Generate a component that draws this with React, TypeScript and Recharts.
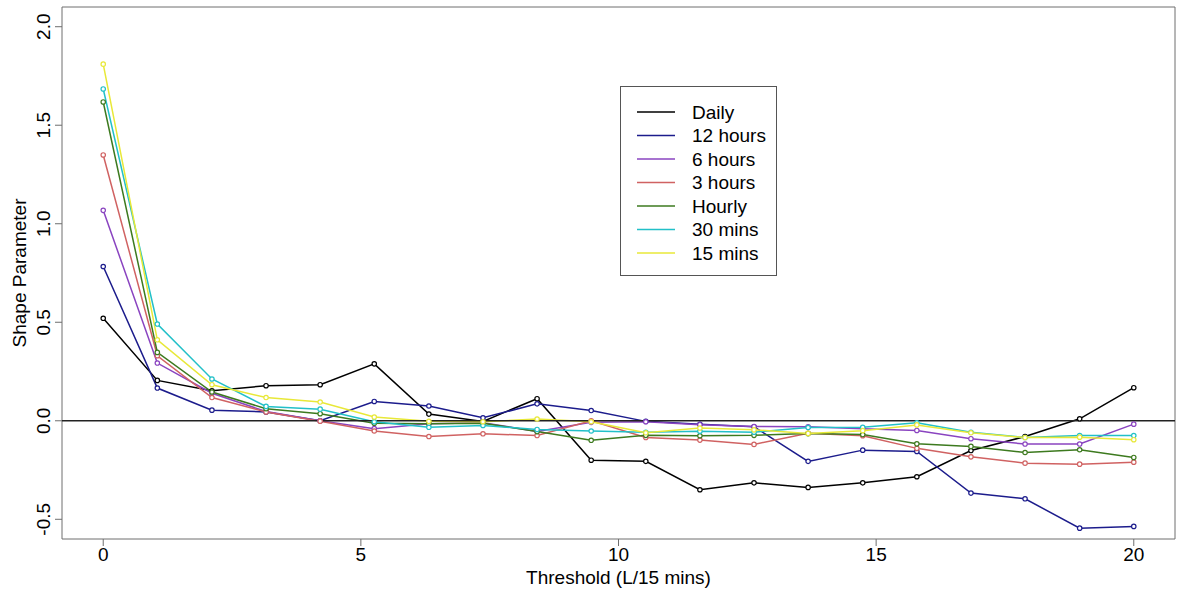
import React from 'react';
import { LineChart, Line, XAxis, YAxis, ReferenceLine, ReferenceArea, Legend, Label } from 'recharts';

// Threshold values (L/15 mins)
const thresholds = [0, 1.05, 2.11, 3.16, 4.21, 5.26, 6.32, 7.37, 8.42, 9.47, 10.53, 11.58, 12.63, 13.68, 14.74, 15.79, 16.84, 17.89, 18.95, 20];

// Fitted shape parameter per aggregation interval
const daily = [0.52, 0.205, 0.152, 0.178, 0.183, 0.289, 0.034, -0.003, 0.112, -0.2, -0.206, -0.35, -0.315, -0.338, -0.315, -0.284, -0.151, -0.08, 0.01, 0.168];
const hours12 = [0.783, 0.166, 0.054, 0.045, 0.0, 0.098, 0.075, 0.015, 0.086, 0.052, -0.003, -0.018, -0.03, -0.206, -0.149, -0.156, -0.367, -0.396, -0.545, -0.536];
const hours6 = [1.068, 0.293, 0.14, 0.047, 0.0, -0.04, -0.015, -0.01, -0.054, -0.008, -0.005, -0.02, -0.029, -0.03, -0.04, -0.049, -0.091, -0.118, -0.118, -0.017];
const hours3 = [1.349, 0.33, 0.118, 0.045, -0.002, -0.052, -0.08, -0.066, -0.075, 0.0, -0.085, -0.098, -0.12, -0.063, -0.076, -0.14, -0.183, -0.215, -0.22, -0.21];
const hourly = [1.618, 0.347, 0.146, 0.061, 0.036, -0.012, -0.015, -0.012, -0.055, -0.099, -0.074, -0.076, -0.074, -0.065, -0.07, -0.117, -0.13, -0.161, -0.147, -0.186];
const mins30 = [1.684, 0.491, 0.212, 0.073, 0.059, -0.005, -0.033, -0.024, -0.044, -0.052, -0.058, -0.053, -0.058, -0.034, -0.033, -0.01, -0.058, -0.085, -0.075, -0.075];
const mins15 = [1.81, 0.411, 0.183, 0.118, 0.095, 0.019, -0.003, -0.005, 0.009, -0.005, -0.061, -0.037, -0.046, -0.064, -0.05, -0.021, -0.061, -0.085, -0.083, -0.096];

const seriesNames = ['Daily', '12 hours', '6 hours', '3 hours', 'Hourly', '30 mins', '15 mins'];
const seriesValues = [daily, hours12, hours6, hours3, hourly, mins30, mins15];
const seriesColors = ['#000000', '#1c1c8c', '#8a44c0', '#d06262', '#3d7a1f', '#22c0c8', '#e8e838'];

const xTicks = [0, 5, 10, 15, 20];
const yTicks = [-0.5, 0, 0.5, 1, 1.5, 2];

const data = thresholds.map((t, i) => {
  const row: Record<string, number> = { t };
  seriesNames.forEach((name, s) => {
    row[name] = seriesValues[s][i];
  });
  return row;
});

const FONT = '"Liberation Sans", Arial, sans-serif';
const FONT_SIZE = 19;

const XTick = (props: any) => {
  const { x, y, payload } = props;
  return (
    <text x={x} y={y} dy="0.71em" textAnchor="middle" fontFamily={FONT} fontSize={FONT_SIZE} fill="#000">
      {payload.value}
    </text>
  );
};

const YTick = (props: any) => {
  const { x, y, payload } = props;
  const tx = x - 3;
  return (
    <text x={tx} y={y} transform={`rotate(-90 ${tx} ${y})`} textAnchor="middle" fontFamily={FONT} fontSize={FONT_SIZE} fill="#000">
      {Number(payload.value).toFixed(1)}
    </text>
  );
};

const XTitle = (props: any) => {
  const { viewBox } = props;
  const cx = viewBox.x + viewBox.width / 2;
  const cy = viewBox.y + 45;
  return (
    <text x={cx} y={cy} textAnchor="middle" fontFamily={FONT} fontSize={FONT_SIZE} fill="#000">
      Threshold (L/15 mins)
    </text>
  );
};

const YTitle = (props: any) => {
  const { viewBox } = props;
  const cx = viewBox.x + 26;
  const cy = viewBox.y + viewBox.height / 2;
  return (
    <text x={cx} y={cy} transform={`rotate(-90 ${cx} ${cy})`} textAnchor="middle" fontFamily={FONT} fontSize={FONT_SIZE} fill="#000">
      Shape Parameter
    </text>
  );
};

const LEGEND_W = 157;
const LEGEND_H = 190;

const LegendBox = () => (
  <svg width={LEGEND_W} height={LEGEND_H} style={{ display: 'block' }}>
    <rect x={0.5} y={0.5} width={LEGEND_W - 1} height={LEGEND_H - 1} fill="#fff" stroke="#555" strokeWidth={1} />
    {seriesNames.map((name, i) => {
      const cy = 26 + i * 23.5;
      return (
        <g key={name}>
          <line x1={17} x2={55} y1={cy} y2={cy} stroke={seriesColors[i]} strokeWidth={1.5} />
          <text x={72} y={cy} dy="0.35em" fontFamily={FONT} fontSize={FONT_SIZE} fill="#000">
            {name}
          </text>
        </g>
      );
    })}
  </svg>
);

export default function App() {
  return (
    <div style={{ position: 'absolute', left: 0, top: 0, width: 1177, height: 594, background: '#fff' }}>
      <LineChart width={1177} height={594} data={data} margin={{ top: 7, right: 2, bottom: 0, left: 0 }}>
        <ReferenceArea x1={-0.8} x2={20.8} y1={-0.6} y2={2.1} fill="none" stroke="#6e6e6e" strokeWidth={1} ifOverflow="visible" />
        <XAxis
          type="number"
          dataKey="t"
          domain={[-0.8, 20.8]}
          ticks={xTicks}
          allowDataOverflow
          height={55}
          axisLine={false}
          tickSize={7}
          tickLine={{ stroke: '#6e6e6e' }}
          tick={<XTick />}
          interval={0}
        >
          <Label content={<XTitle />} />
        </XAxis>
        <YAxis
          type="number"
          domain={[-0.6, 2.1]}
          ticks={yTicks}
          allowDataOverflow
          width={62}
          axisLine={false}
          tickSize={7}
          tickLine={{ stroke: '#6e6e6e' }}
          tick={<YTick />}
          interval={0}
        >
          <Label content={<YTitle />} />
        </YAxis>
        {seriesNames.map((name, i) => (
          <Line
            key={name}
            type="linear"
            dataKey={name}
            stroke={seriesColors[i]}
            strokeWidth={1.5}
            dot={{ r: 2.2, stroke: seriesColors[i], strokeWidth: 1.2, fill: '#fff' }}
            activeDot={false}
            isAnimationActive={false}
          />
        ))}
        <ReferenceLine y={0} stroke="#222" strokeWidth={1.5} />
        <Legend
          layout="vertical"
          align="center"
          verticalAlign="middle"
          wrapperStyle={{ left: 620, top: 86, width: LEGEND_W, height: LEGEND_H }}
          content={<LegendBox />}
        />
      </LineChart>
    </div>
  );
}
